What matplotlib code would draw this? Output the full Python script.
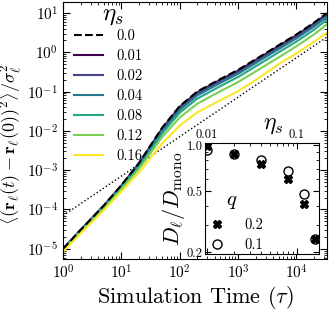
import numpy as np
import matplotlib
matplotlib.use('Agg')
import matplotlib.pyplot as plt
from matplotlib.ticker import FixedLocator, FixedFormatter, NullFormatter, LogLocator

plt.rcParams['font.family'] = 'serif'
plt.rcParams['font.serif'] = ['cmr10']
plt.rcParams['mathtext.fontset'] = 'cm'
plt.rcParams['axes.formatter.use_mathtext'] = True
plt.rcParams['axes.unicode_minus'] = False

# simulation time (tau)
t = [1, 2, 5, 10, 20, 50, 100, 200, 500, 1000, 2000, 5000, 1e4, 2e4, 3.3e4]

# log10 of MSD / sigma^2 for each eta_s
eta_labels = ['0.0', '0.01', '0.02', '0.04', '0.08', '0.12', '0.16']
msd_00 = [-5.00, -4.52, -3.90, -3.38, -2.82, -1.92, -1.37, -1.00, -0.68, -0.45, -0.18, 0.18, 0.45, 0.75, 0.99]
msd_01 = [-5.00, -4.52, -3.90, -3.39, -2.83, -1.94, -1.39, -1.02, -0.70, -0.47, -0.20, 0.16, 0.43, 0.73, 0.97]
msd_02 = [-5.00, -4.52, -3.91, -3.40, -2.85, -1.96, -1.42, -1.05, -0.73, -0.50, -0.23, 0.13, 0.40, 0.70, 0.94]
msd_04 = [-5.01, -4.53, -3.92, -3.42, -2.88, -2.01, -1.47, -1.10, -0.78, -0.55, -0.28, 0.08, 0.35, 0.65, 0.89]
msd_08 = [-5.02, -4.55, -3.94, -3.45, -2.92, -2.07, -1.54, -1.18, -0.86, -0.63, -0.36, 0.00, 0.27, 0.57, 0.82]
msd_12 = [-5.04, -4.57, -3.97, -3.48, -2.97, -2.16, -1.66, -1.31, -0.99, -0.76, -0.49, -0.13, 0.15, 0.45, 0.70]
msd_16 = [-5.07, -4.61, -4.02, -3.54, -3.06, -2.32, -1.87, -1.53, -1.22, -0.99, -0.71, -0.30, -0.03, 0.26, 0.49]

# dotted reference line (slope 1)
ref_t = [1, 3.3e4]
ref_y = [7.0e-5, 2.4]

# inset: diffusion ratio vs eta_s
inset_eta = [0.01, 0.02, 0.04, 0.08, 0.12, 0.16]
ratio_q01 = [0.93, 0.87, 0.80, 0.68, 0.48, 0.245]
ratio_q02 = [0.98, 0.87, 0.75, 0.60, 0.41, 0.245]

fig = plt.figure(figsize=(3.32, 3.10), dpi=100)
ax = fig.add_axes([0.19, 0.1645, 0.795, 0.829])

colors = plt.cm.viridis(np.linspace(0, 1, 6))
series = [msd_01, msd_02, msd_04, msd_08, msd_12, msd_16]

ax.plot(ref_t, ref_y, ':', color='black', lw=1.0)
for s, c, lab in zip(series, colors, eta_labels[1:]):
    ax.plot(t, 10 ** np.array(s), color=c, lw=1.5, label=lab)
ax.plot(t, 10 ** np.array(msd_00), '--', color='black', lw=1.5, label=eta_labels[0], zorder=5)

ax.set_xscale('log')
ax.set_yscale('log')
ax.set_xlim(1, 3.37e4)
ax.set_ylim(5.5e-6, 19)
ax.set_yticks([1e-5, 1e-4, 1e-3, 1e-2, 1e-1, 1, 10])
ax.tick_params(which='both', direction='in', top=True, right=True, labelsize=11)
ax.tick_params(which='major', length=5)
ax.tick_params(which='minor', length=2.5)
ax.set_xlabel(r'Simulation Time $(\tau)$', fontsize=16, labelpad=1)
ax.set_ylabel(r'$\langle(\mathbf{r}_\ell(t)-\mathbf{r}_\ell(0))^2\rangle/\sigma_\ell^2$',
              fontsize=13)
ax.yaxis.set_label_coords(-0.15, 0.445)

handles, labels = ax.get_legend_handles_labels()
order = [6, 0, 1, 2, 3, 4, 5]
ax.legend([handles[i] for i in order], [labels[i] for i in order],
          fontsize=10.5, frameon=False, loc='upper left',
          bbox_to_anchor=(0.02, 0.915), handlelength=2.0, labelspacing=0.43,
          borderaxespad=0.0, handletextpad=0.9)
ax.text(0.19, 0.945, r'$\eta_s$', transform=ax.transAxes, fontsize=18,
        ha='center', va='center')

ins = fig.add_axes([0.6175, 0.1806, 0.3435, 0.3581])
ins.plot(inset_eta, ratio_q02, 'X', color='black', ms=5.5, ls='none', label='0.2')
ins.plot(inset_eta, ratio_q01, 'o', mfc='none', mec='black', ms=6.5, mew=1.0, ls='none', label='0.1')
ins.set_xscale('log')
ins.set_yscale('log')
ins.set_xlim(0.0095, 0.178)
ins.set_ylim(0.195, 1.03)
ins.xaxis.tick_top()
ins.xaxis.set_label_position('top')
ins.xaxis.set_major_locator(FixedLocator([0.01, 0.1]))
ins.xaxis.set_major_formatter(FixedFormatter(['0.01', '0.1']))
ins.xaxis.set_minor_locator(LogLocator(subs=np.arange(2, 10)))
ins.xaxis.set_minor_formatter(NullFormatter())
ins.yaxis.set_major_locator(FixedLocator([0.2, 0.5, 1.0]))
ins.yaxis.set_major_formatter(FixedFormatter(['0.2', '0.5', '1.0']))
ins.yaxis.set_minor_locator(FixedLocator([0.3, 0.4, 0.6, 0.7, 0.8, 0.9]))
ins.yaxis.set_minor_formatter(NullFormatter())
ins.tick_params(which='both', direction='in', top=True, bottom=True, right=True, labelsize=9, pad=1.5)
ins.tick_params(which='major', length=4)
ins.tick_params(which='minor', length=2)
ins.set_xlabel(r'$\eta_s$', fontsize=17)
ins.xaxis.set_label_coords(0.6, 1.13)
ins.set_ylabel(r'$D_\ell/D_{\rm mono}$', fontsize=16)
ins.yaxis.set_label_coords(-0.155, 0.5)
ins.legend(fontsize=10.5, frameon=False, loc='lower left',
           bbox_to_anchor=(-0.04, -0.035), handlelength=1.5, handletextpad=1.1,
           labelspacing=0.45, borderaxespad=0.0)
ins.text(0.23, 0.47, r'$q$', transform=ins.transAxes, fontsize=15, ha='center', va='center')

fig.savefig('out.png', dpi=100)
